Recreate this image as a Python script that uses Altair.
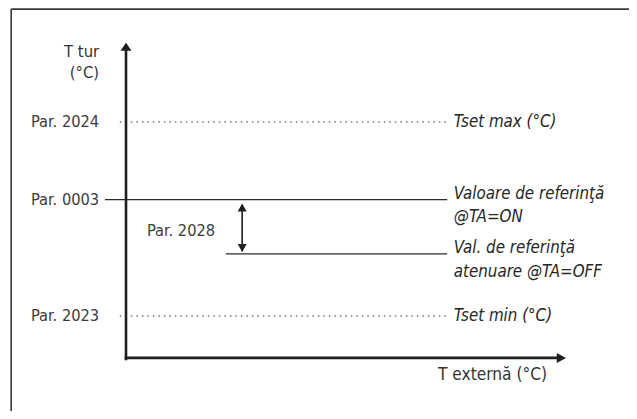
import altair as alt
import pandas as pd

# ---- schematic data (flow temperature on y, outside temperature on x) ----
level_names = ["Par. 2024", "Par. 0003", "Par. 2023"]
level_values = [80, 60, 30]
level_dotted = [True, False, True]
level_start = [-1.4, -4.8, -1.4]
level_end = 73.0

reduced_value = 46
reduced_start = 22.7

right_labels = ["Tset max (°C)", "Valoare de referinţă", "@TA=ON",
                "Val. de referinţă", "atenuare @TA=OFF", "Tset min (°C)"]
right_label_y = [80, 61.4, 55.5, 47.5, 41.3, 30]

axis_origin_x = 0.0
axis_origin_y = 19.2
axis_top_y = 100.4
axis_right_x = 100.0

ytitle_lines = ["T tur", "(°C)"]
ytitle_y = [98.0, 92.6]
xtitle = "T externă (°C)"

offset_label = "Par. 2028"

FONT = "'Liberation Sans Narrow', 'DejaVu Sans Condensed', 'Roboto', sans-serif"
TXT = "#333333"
XS = alt.Scale(domain=[-26.82, 114.32], nice=False, zero=False)
YS = alt.Scale(domain=[5.52, 109.38], nice=False, zero=False)


def xq(f):
    return alt.X(f, type="quantitative", scale=XS, axis=None)


def yq(f):
    return alt.Y(f, type="quantitative", scale=YS, axis=None)


# frame (open towards the right and bottom, as in the cropped figure)
frame_df = pd.DataFrame({
    "x": [-26.1, -26.1], "x2": [114.32, -26.1],
    "y": [109.1, 109.1], "y2": [109.1, 5.52],
})
frame = alt.Chart(frame_df).mark_rule(color="#3a3a3a", strokeWidth=1.6).encode(
    x=xq("x"), x2="x2", y=yq("y"), y2="y2")

# axes
axes_df = pd.DataFrame({
    "x": [axis_origin_x, axis_origin_x - 0.3],
    "x2": [axis_origin_x, axis_right_x - 1.5],
    "y": [axis_origin_y - 0.6, axis_origin_y],
    "y2": [axis_top_y - 1.5, axis_origin_y],
})
axes = alt.Chart(axes_df).mark_rule(color="#1e1e1e", strokeWidth=2.6).encode(
    x=xq("x"), x2="x2", y=yq("y"), y2="y2")

up_df = pd.DataFrame({"x": [axis_origin_x], "y": [axis_top_y]})
up_head = alt.Chart(up_df).mark_point(
    shape="M-1,1.45L0,0L1,1.45Z", size=121, filled=True, opacity=1,
    color="#1e1e1e", strokeWidth=0).encode(x=xq("x"), y=yq("y"))

right_df = pd.DataFrame({"x": [axis_right_x], "y": [axis_origin_y]})
right_head = alt.Chart(right_df).mark_point(
    shape="M0,0L-1.85,-1L-1.85,1Z", size=100, filled=True, opacity=1,
    color="#1e1e1e", strokeWidth=0).encode(x=xq("x"), y=yq("y"))

# level lines
lv = pd.DataFrame({"name": level_names, "y": level_values,
                   "dotted": level_dotted, "x": level_start,
                   "x2": [level_end] * len(level_names),
                   "lx": [-6.1] * len(level_names)})
dotted_lines = alt.Chart(lv[lv.dotted]).mark_rule(
    color="#333333", strokeWidth=1.1, strokeDash=[1.5, 4]).encode(
    x=xq("x"), x2="x2", y=yq("y"))
solid_lines = alt.Chart(lv[~lv.dotted]).mark_rule(
    color="#2a2a2a", strokeWidth=1.2).encode(x=xq("x"), x2="x2", y=yq("y"))
reduced_df = pd.DataFrame({"x": [reduced_start], "x2": [level_end],
                           "y": [reduced_value]})
reduced_line = alt.Chart(reduced_df).mark_rule(
    color="#2a2a2a", strokeWidth=1.2).encode(x=xq("x"), x2="x2", y=yq("y"))

level_text = alt.Chart(lv).mark_text(
    align="right", baseline="middle", font=FONT, fontSize=16.3,
    color="#3c3c3c").encode(x=xq("lx"), y=yq("y"), text="name")

# double arrow (Par. 2028)
darrow_x = 26.4
darrow_df = pd.DataFrame({"x": [darrow_x], "y": [58.4], "y2": [46.7]})
darrow = alt.Chart(darrow_df).mark_rule(color="#1e1e1e", strokeWidth=1.6).encode(
    x=xq("x"), y=yq("y"), y2="y2")
dtop = alt.Chart(pd.DataFrame({"x": [darrow_x], "y": [59.0]})).mark_point(
    shape="M-1,1.8L0,0L1,1.8Z", size=81, filled=True, opacity=1,
    color="#1e1e1e", strokeWidth=0).encode(x=xq("x"), y=yq("y"))
dbot = alt.Chart(pd.DataFrame({"x": [darrow_x], "y": [46.5]})).mark_point(
    shape="M-1,-1.8L0,0L1,-1.8Z", size=81, filled=True, opacity=1,
    color="#1e1e1e", strokeWidth=0).encode(x=xq("x"), y=yq("y"))
dlabel = alt.Chart(pd.DataFrame({"x": [12.5], "y": [51.9], "t": [offset_label]})).mark_text(
    align="center", baseline="middle", font=FONT, fontSize=16.3,
    color="#3c3c3c").encode(x=xq("x"), y=yq("y"), text="t")

# right-hand italic labels
rl = pd.DataFrame({"t": right_labels, "y": right_label_y,
                   "x": [74.5] * len(right_labels)})
rtext = alt.Chart(rl).mark_text(
    align="left", baseline="middle", font=FONT, fontSize=16.8, fontStyle="italic",
    color="#262626").encode(x=xq("x"), y=yq("y"), text="t")

# axis titles
yt = pd.DataFrame({"t": ytitle_lines, "y": ytitle_y, "x": [-6.1, -6.1]})
ytext = alt.Chart(yt).mark_text(
    align="right", baseline="middle", font=FONT, fontSize=16.5,
    color=TXT).encode(x=xq("x"), y=yq("y"), text="t")
xt = pd.DataFrame({"t": [xtitle], "x": [83.3], "y": [14.8]})
xtext = alt.Chart(xt).mark_text(
    align="center", baseline="middle", font=FONT, fontSize=17.2,
    color=TXT).encode(x=xq("x"), y=yq("y"), text="t")

chart = alt.layer(
    frame, dotted_lines, solid_lines, reduced_line, axes, up_head, right_head,
    darrow, dtop, dbot, level_text, dlabel, rtext, ytext, xtext
).properties(
    width=621, height=403, padding=0,
    autosize=alt.AutoSizeParams(type="none"),
    background="white",
).configure_view(stroke=None)

chart.save("out.html", embed_options={"renderer": "svg", "actions": False})
